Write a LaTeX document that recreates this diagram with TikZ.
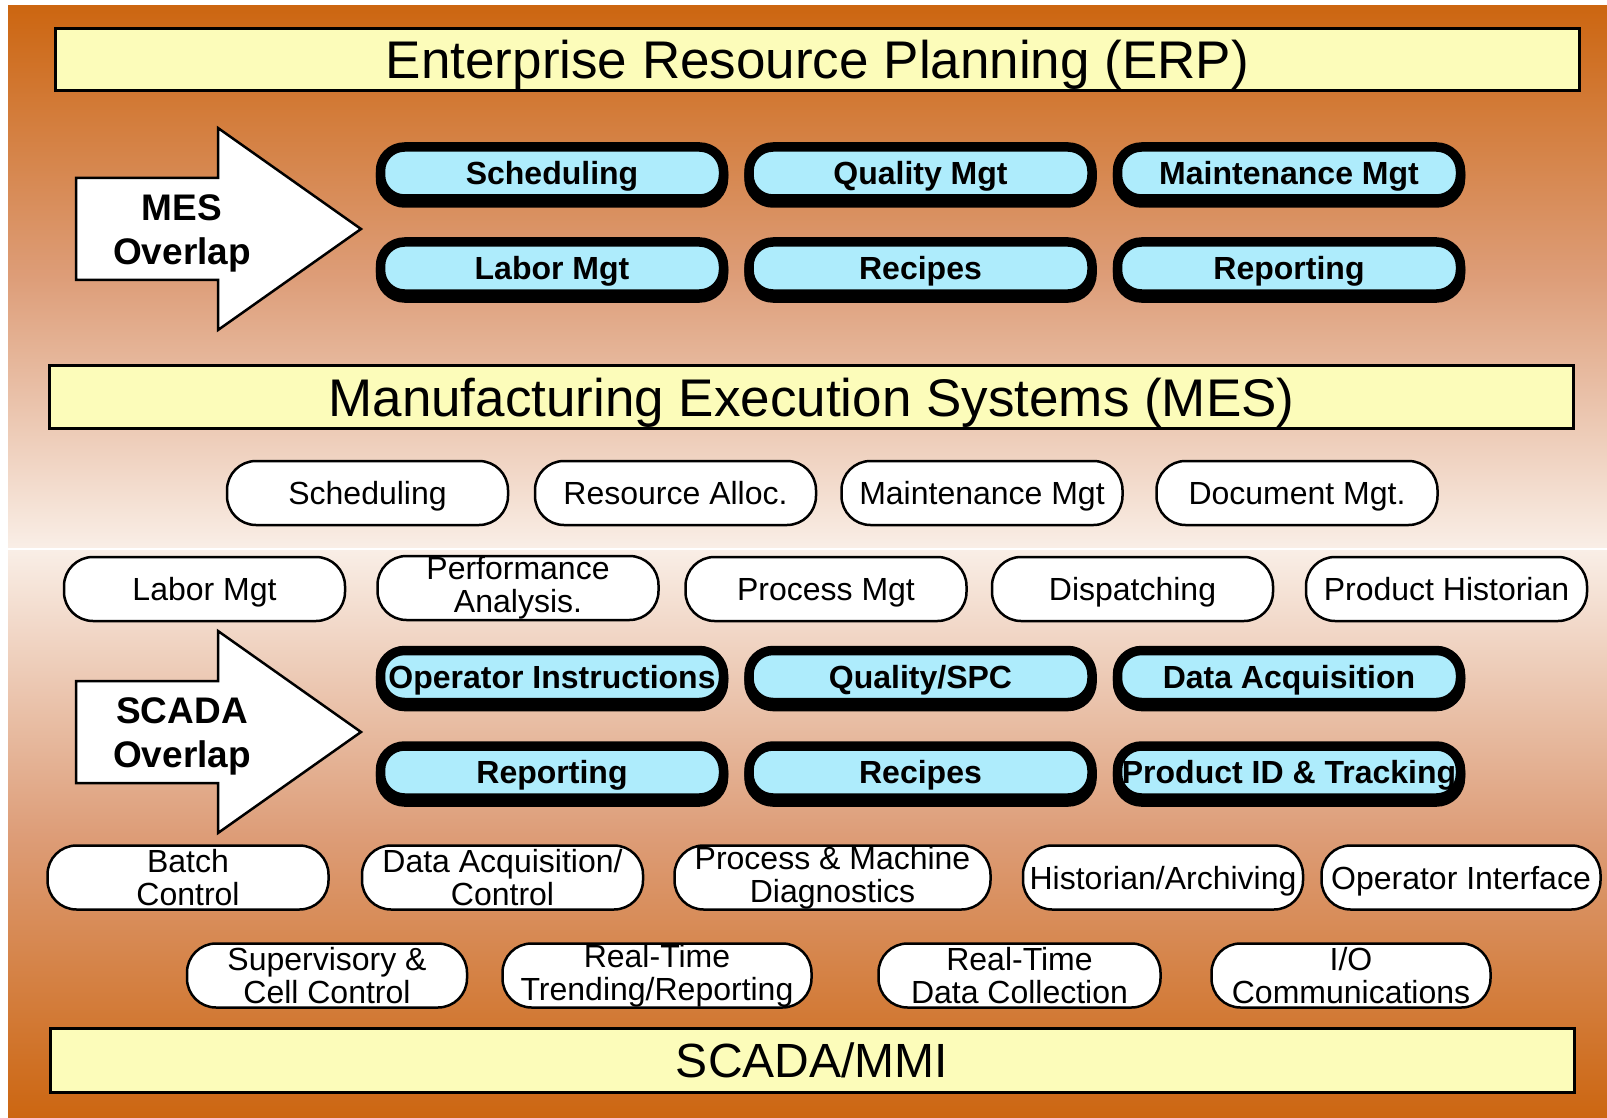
\documentclass[tikz,border=0pt]{standalone}
\usepackage{fontspec}
\setmainfont{Liberation Sans}
\usetikzlibrary{shadows}
\definecolor{bgorange}{RGB}{204,102,17}
\definecolor{bgmid}{RGB}{221,157,120}
\definecolor{bglight}{RGB}{249,238,230}
\definecolor{barfill}{RGB}{252,252,186}
\definecolor{pillblue}{RGB}{174,236,252}

\begin{document}
\begin{tikzpicture}[x=1pt, y=-1pt,
    bar/.style={rectangle, draw, fill=barfill, line width=3pt, minimum width=1524pt,
        minimum height=62pt, inner sep=0pt, text height=38pt, text depth=0pt,
        font=\fontsize{53}{60}\selectfont},
    bluepill/.style={rectangle, rounded corners=24pt, draw, fill=pillblue, line width=9.5pt,
        minimum width=343pt, minimum height=52pt, inner sep=0pt, text height=23pt, text depth=0pt,
        font=\fontsize{32}{34}\selectfont\bfseries,
        drop shadow={shadow xshift=0pt, shadow yshift=-4pt, opacity=1, fill=black,
        draw=black, line width=9.5pt}},
    pill/.style={rectangle, rounded corners=29pt, draw, fill=white, line width=2.5pt,
        minimum width=281pt, minimum height=64pt, inner sep=0pt, align=center,
        font=\fontsize{32}{33}\selectfont},
    pillone/.style={pill, text height=23pt, text depth=0pt},
    overlap/.style={draw, fill=white, line width=2.5pt, line join=miter},
    overlaptext/.style={align=center, font=\fontsize{37}{44}\selectfont\bfseries}]

            % Background
            \fill[white] (0,0) rectangle (1607,1118);
            \shade[top color=bgorange, bottom color=bglight, middle color=bgmid] (8,6) rectangle (1607,547);
            \shade[top color=bglight, bottom color=bgorange, middle color=bgmid] (8,550) rectangle (1607,1118);
            \useasboundingbox (0,0) rectangle (1607,1118);

            % Layer bars
            \node[bar] (ERP) at (817.5,59.5) {Enterprise Resource Planning (ERP)};
            \node[bar, minimum height=63pt] (MES) at (811.5,397) {Manufacturing Execution Systems (MES)};
            \node[bar, minimum height=64pt, text height=34pt, font=\fontsize{48}{56}\selectfont]
                (SCADA) at (812,1060.5) {SCADA/MMI};

            % Overlap arrows
            \foreach \name/\cy in {MES/229, SCADA/732} {
                \draw[overlap] (76,\cy-51) -- (218,\cy-51) -- (218,\cy-101) -- (361,\cy)
                    -- (218,\cy+101) -- (218,\cy+51) -- (76,\cy+51) -- cycle;
                \node[overlaptext] (\name-Overlap) at (182,\cy+4) {\name\\Overlap};
            }

            % MES overlap functions
            \foreach \name/\i in {Scheduling/1, Quality Mgt/2, Maintenance Mgt/3} {
                \node[bluepill] (ErpMes1-\i) at (183.5+368.5*\i,173) {\name};
            }
            \foreach \name/\i in {Labor Mgt/1, Recipes/2, Reporting/3} {
                \node[bluepill] (ErpMes2-\i) at (183.5+368.5*\i,268) {\name};
            }

            % MES functions
            \foreach \name/\x/\i in {Scheduling/367.5/1, Resource Alloc./675.5/2,
                Maintenance Mgt/982/3, Document Mgt./1297/4} {
                \node[pillone] (Mes1-\i) at (\x,493) {\name};
            }
            \foreach \name/\x/\i in {Labor Mgt/204.5/1, Process Mgt/826/3,
                Dispatching/1132.5/4, Product Historian/1446.5/5} {
                \node[pillone] (Mes2-\i) at (\x,589) {\name};
            }
            \node[pill] (Mes2-2) at (518,588) {Performance\\Analysis.};

            % SCADA overlap functions
            \foreach \name/\i in {Operator Instructions/1, {Quality/SPC}/2, Data Acquisition/3} {
                \node[bluepill] (MesScada1-\i) at (183.5+368.5*\i,676.5) {\name};
            }
            \foreach \name/\i in {Reporting/1, Recipes/2, Product ID \& Tracking/3} {
                \node[bluepill] (MesScada2-\i) at (183.5+368.5*\i,772) {\name};
            }

            % SCADA functions
            \foreach \name/\x/\w/\i in {Batch\\Control/188/281/1, {Data Acquisition/\\Control}/502.5/281/2,
                Process \& Machine\\Diagnostics/832.5/316/3} {
                \node[pill, minimum width=\w pt] (Scada1-\i) at (\x,877.5) {\name};
            }
            \foreach \name/\x/\w/\i in {{Historian/Archiving}/1163/280/4, Operator Interface/1461/279/5} {
                \node[pillone, minimum width=\w pt] (Scada1-\i) at (\x,877.5) {\name};
            }
            \foreach \name/\x/\w/\i in {Supervisory \&\\Cell Control/327/280/1,
                {Real-Time\\Trending/Reporting}/657/309/2, Real-Time\\Data Collection/1019.5/282/3,
                {I/O\\Communications}/1351/279/4} {
                \node[pill, minimum width=\w pt] (Scada2-\i) at (\x,975.5) {\name};
            }
        \end{tikzpicture}
\end{document}
